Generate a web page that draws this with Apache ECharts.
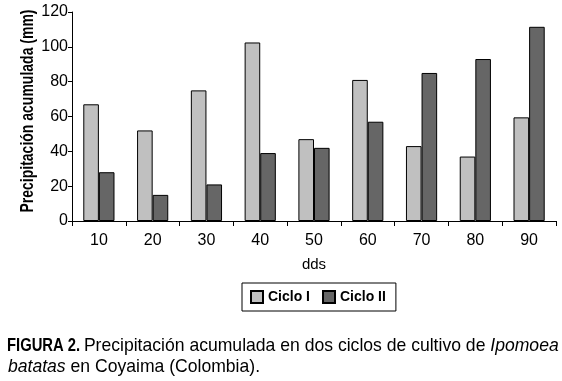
<!DOCTYPE html>
<html>
<head>
<meta charset="utf-8">
<script src="https://cdn.jsdelivr.net/npm/echarts@6/dist/echarts.min.js"></script>
<style>
html,body{margin:0;padding:0;background:#fff;}
#c{width:562px;height:381px;}
</style>
</head>
<body>
<div id="c"></div>
<script>
const categories = ['10','20','30','40','50','60','70','80','90'];
const cicloI = [67, 52, 75, 102.5, 47, 81, 43, 37, 59.5];
const cicloII = [28, 15, 21, 39, 42, 57, 85, 93, 111.5];
const seriesNames = ['Ciclo I', 'Ciclo II'];
const yTitle = 'Precipitación acumulada (mm)';
const xTitle = 'dds';
const captionLabel = 'FIGURA 2.';
const captionLine1 = ' Precipitación acumulada en dos ciclos de cultivo de {i|Ipomoea}';
const captionLine2 = '{i|batatas} en Coyaima (Colombia).';

const FONT = '"Liberation Sans", Arial, sans-serif';
const NARROW = 0.8;
const REG = 0.95;
const chart = echarts.init(document.getElementById('c'), null, {renderer: 'canvas'});
chart.setOption({
  backgroundColor: '#fff',
  animation: false,
  textStyle: {fontFamily: FONT},
  grid: {left: 72, right: 6, top: 12, bottom: 160, containLabel: false, outerBoundsMode: 'none'},
  legend: {
    left: 242, top: 283,
    data: seriesNames,
    orient: 'horizontal',
    itemWidth: 12, itemHeight: 12, itemGap: 12,
    borderColor: '#000', borderWidth: 1,
    padding: [7, 10, 7, 8],
    icon: 'rect',
    textStyle: {fontFamily: FONT, fontSize: 14, fontWeight: 'bold', color: '#000'}
  },
  xAxis: {
    type: 'category',
    data: categories,
    name: xTitle,
    nameLocation: 'middle',
    nameGap: 36,
    nameTextStyle: {fontFamily: FONT, fontSize: 15, color: '#000'},
    axisLine: {lineStyle: {color: '#000', width: 1}},
    axisTick: {show: true, length: 5, lineStyle: {color: '#000'}},
    axisLabel: {fontFamily: FONT, fontSize: 16, color: '#000', margin: 12}
  },
  yAxis: {
    type: 'value',
    min: 0, max: 120, interval: 20,
    axisLine: {show: true, lineStyle: {color: '#000', width: 1}},
    axisTick: {show: true, length: 4, lineStyle: {color: '#000'}},
    axisLabel: {fontFamily: FONT, fontSize: 16, color: '#000', margin: 4},
    splitLine: {show: false}
  },
  series: [
    {name: seriesNames[0], type: 'bar', data: cicloI, barGap: '0%', barCategoryGap: '42%',
     itemStyle: {color: '#c0c0c0', borderColor: '#000', borderWidth: 1}},
    {name: seriesNames[1], type: 'bar', data: cicloII, barGap: '0%', barCategoryGap: '42%',
     itemStyle: {color: '#666666', borderColor: '#000', borderWidth: 1}}
  ],
  graphic: [
    {type: 'text', x: 28, y: 111, rotation: Math.PI / 2, scaleX: NARROW, style: {
      text: yTitle, fontFamily: FONT, fontSize: 17.5, fontWeight: 'bold', fill: '#000',
      align: 'center', verticalAlign: 'middle'
    }},
    {type: 'text', x: 7, y: 345.5, scaleX: NARROW, style: {
      text: captionLabel, fontFamily: FONT, fontSize: 18.5, fontWeight: 'bold', fill: '#000',
      verticalAlign: 'middle'
    }},
    {type: 'text', x: 79, y: 345.5, scaleX: REG, style: {
      text: captionLine1, fontFamily: FONT, fontSize: 18.5, fill: '#000',
      verticalAlign: 'middle',
      rich: {i: {fontStyle: 'italic', fontFamily: FONT, fontSize: 18.5}}
    }},
    {type: 'text', x: 8, y: 366.5, scaleX: REG, style: {
      text: captionLine2, fontFamily: FONT, fontSize: 18.5, fill: '#000',
      verticalAlign: 'middle',
      rich: {i: {fontStyle: 'italic', fontFamily: FONT, fontSize: 18.5}}
    }}
  ]
});
</script>
</body>
</html>
